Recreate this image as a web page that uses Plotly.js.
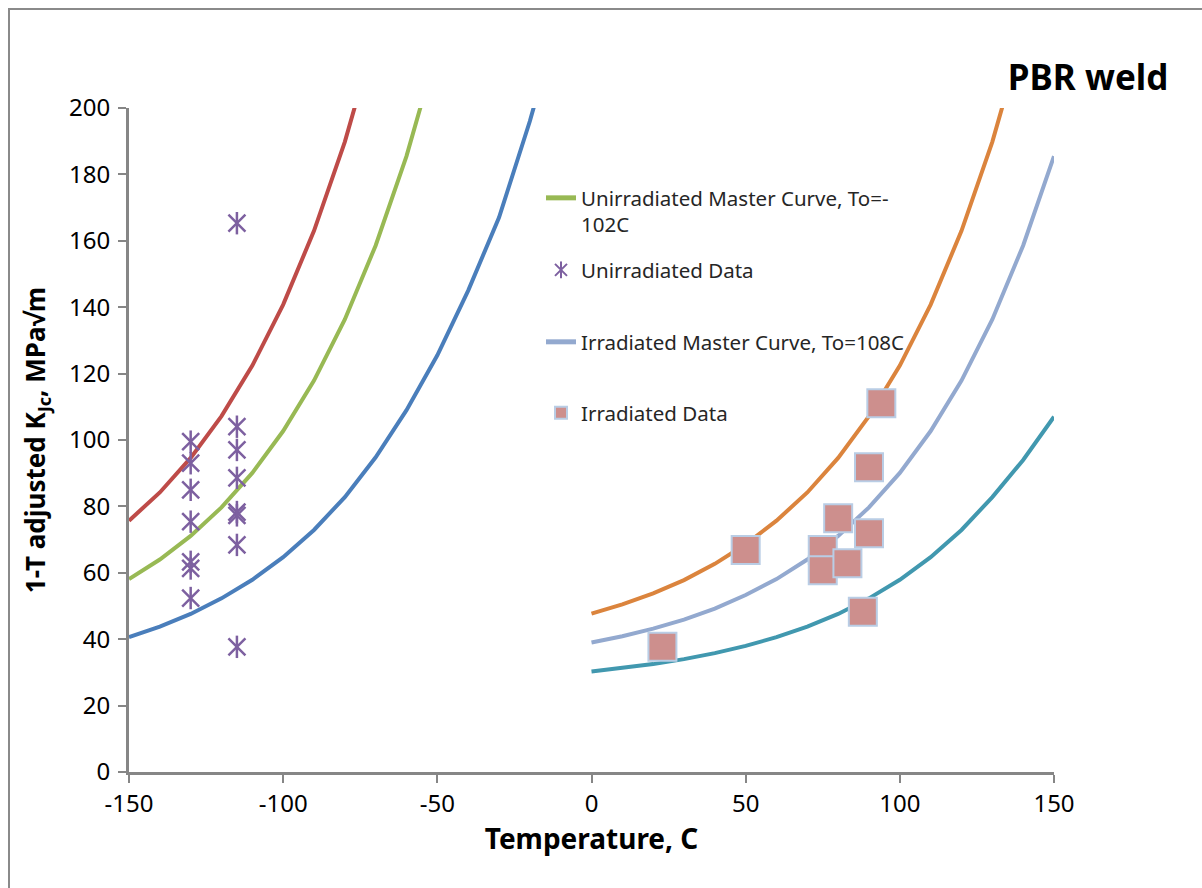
<!DOCTYPE html>
<html>
<head>
<meta charset="utf-8">
<script src="https://cdn.plot.ly/plotly-3.0.1.min.js"></script>
<style>
  html, body { margin: 0; padding: 0; background: #fff; overflow: hidden; }
  #chart { position: absolute; left: 0; top: 0; width: 1202px; height: 888px; }
  #frame { position: absolute; left: 8px; top: 8px; width: 1300px; height: 1000px;
           border-left: 2px solid #8a8a8a; border-top: 2px solid #8a8a8a; pointer-events: none; }
</style>
</head>
<body>
<div id="chart"></div>
<div id="frame"></div>
<script>
// ---- Unirradiated (To = -102 C) master curve family ----
const tempUnirr = [-150, -140, -130, -120, -110, -100, -90, -80, -70, -60, -50, -40, -30, -20, -10];
const unirr95  = [75.7, 84.2, 94.6, 107.2, 122.4, 140.8, 163.0, 189.8, 222.3];
const unirrMed = [58.1, 64.0, 71.1, 79.7, 90.1, 102.7, 117.9, 136.3, 158.6, 185.5, 218.0];
const unirr05  = [40.6, 43.8, 47.6, 52.3, 57.9, 64.7, 72.9, 82.8, 94.8, 109.0, 125.5, 145.0, 167.0, 196.0, 229.0];

// ---- Irradiated (To = 108 C) master curve family ----
const tempIrr = [0, 10, 20, 30, 40, 50, 60, 70, 80, 90, 100, 110, 120, 130, 140, 150];
const irr95  = [47.7, 50.5, 53.8, 57.8, 62.7, 68.6, 75.7, 84.2, 94.6, 107.2, 122.4, 140.8, 163.0, 189.8, 222.3];
const irrMed = [39.0, 40.9, 43.2, 45.9, 49.2, 53.3, 58.1, 64.0, 71.1, 79.7, 90.1, 102.7, 117.9, 136.3, 158.6, 185.5];
const irr05  = [30.3, 31.3, 32.5, 34.0, 35.8, 38.0, 40.6, 43.8, 47.6, 52.3, 57.9, 64.7, 72.9, 82.8, 94.0, 107.0];

// ---- Measured data ----
const unirrDataT = [-130, -130, -130, -130, -130, -130, -130, -115, -115, -115, -115, -115, -115, -115, -115];
const unirrDataK = [99.5, 93.0, 85.0, 75.4, 63.3, 61.3, 52.4, 165.3, 104.0, 97.0, 88.6, 78.3, 77.3, 68.4, 37.7];
const irrDataT = [23, 50, 94, 80, 75, 75, 83, 90, 90, 88];
const irrDataK = [37.7, 66.9, 111.1, 76.4, 66.9, 60.8, 62.9, 71.9, 91.8, 48.3];

// ---- Text ----
const legendNames = ["Unirradiated Master Curve, To=-<br>102C", "Unirradiated Data",
                     "Irradiated Master Curve, To=108C", "Irradiated Data"];
const chartTitle = "PBR weld";
const xTitle = "Temperature, C";
const yTitle = "1-T adjusted K<sub>Jc</sub>, MPa√m";
const xTicks = [-150, -100, -50, 0, 50, 100, 150];
const yTicks = [0, 20, 40, 60, 80, 100, 120, 140, 160, 180, 200];

const LW = 4;
function curve(x, y, color, extra) {
  return Object.assign({
    type: 'scatter', mode: 'lines', x: x.slice(0, y.length), y: y,
    line: { color: color, width: LW }, showlegend: false, hoverinfo: 'skip'
  }, extra || {});
}

const PURPLE = '#7D60A0';
const traces = [
  curve(tempUnirr, unirr95, '#BE4B48'),
  curve(tempUnirr, unirrMed, '#98B954', { showlegend: true, name: legendNames[0], legend: 'legend' }),
  curve(tempUnirr, unirr05, '#4A7EBB'),
  curve(tempIrr, irr95, '#DB843D'),
  curve(tempIrr, irrMed, '#93A9CF', { showlegend: true, name: legendNames[2], legend: 'legend3' }),
  curve(tempIrr, irr05, '#4198AF'),
  {
    type: 'scatter', mode: 'markers', x: unirrDataT, y: unirrDataK,
    name: legendNames[1], legend: 'legend2', showlegend: true,
    marker: { symbol: 'x-thin-open', size: 17, color: PURPLE, line: { color: PURPLE, width: 2.5 } },
    hoverinfo: 'skip'
  },
  {
    // vertical bar of the star marker; its legend icon is overlaid on the one above
    type: 'scatter', mode: 'markers', x: unirrDataT, y: unirrDataK,
    name: legendNames[1], legend: 'legend5', showlegend: true,
    marker: { symbol: 'line-ns-open', size: 16, color: PURPLE, line: { color: PURPLE, width: 2.5 } },
    hoverinfo: 'skip'
  },
  {
    type: 'scatter', mode: 'markers', x: irrDataT, y: irrDataK,
    name: legendNames[3], legend: 'legend4', showlegend: true,
    marker: { symbol: 'square', size: 28, color: '#CD8F8D', line: { color: '#B9CDE5', width: 2 } },
    hoverinfo: 'skip'
  }
];

const FONT = 'Noto Sans, Open Sans, sans-serif';
const legBase = {
  x: 0.4454, xanchor: 'left', yanchor: 'middle',
  bgcolor: 'rgba(0,0,0,0)', borderwidth: 0,
  font: { family: FONT, size: 20.5, color: '#262626' },
  itemsizing: 'constant', valign: 'top'
};

const layout = {
  width: 1202, height: 888,
  margin: { l: 129, r: 148, t: 108, b: 116 },
  paper_bgcolor: 'rgba(0,0,0,0)', plot_bgcolor: 'rgba(0,0,0,0)',
  font: { family: FONT, color: '#000' },
  title: {
    text: '<b>' + chartTitle + '</b>', xref: 'container', yref: 'container',
    x: 0.972, xanchor: 'right', y: 0.912, yanchor: 'middle',
    font: { family: FONT, size: 35, color: '#000' }
  },
  xaxis: {
    range: [-150, 150], tickvals: xTicks, ticktext: xTicks.map(String),
    showgrid: false, zeroline: false, showline: true, linecolor: '#868686', linewidth: 3,
    ticks: 'outside', ticklen: 8, tickwidth: 2, tickcolor: '#868686',
    tickfont: { family: FONT, size: 24, color: '#000' },
    title: { text: '<b>' + xTitle + '</b>', font: { family: FONT, size: 28, color: '#000' }, standoff: 4 }
  },
  yaxis: {
    range: [0, 200], tickvals: yTicks, ticktext: yTicks.map(String),
    showgrid: false, zeroline: false, showline: true, linecolor: '#868686', linewidth: 3,
    ticks: 'outside', ticklen: 8, tickwidth: 2, tickcolor: '#868686',
    tickfont: { family: FONT, size: 24, color: '#000' },
    ticklabelstandoff: 3,
    title: { text: '<b>' + yTitle + '</b>', font: { family: FONT, size: 26, color: '#000' }, standoff: 16 }
  },
  legend:  Object.assign({}, legBase, { y: 0.8441 }),
  legend2: Object.assign({}, legBase, { y: 0.756 }),
  legend3: Object.assign({}, legBase, { y: 0.6476 }),
  legend4: Object.assign({}, legBase, { y: 0.5407 }),
  legend5: Object.assign({}, legBase, { y: 0.756, font: { family: FONT, size: 20.5, color: 'rgba(0,0,0,0)' } }),
  hovermode: false
};

Plotly.newPlot('chart', traces, layout, { displayModeBar: false, staticPlot: true });
</script>
</body>
</html>
